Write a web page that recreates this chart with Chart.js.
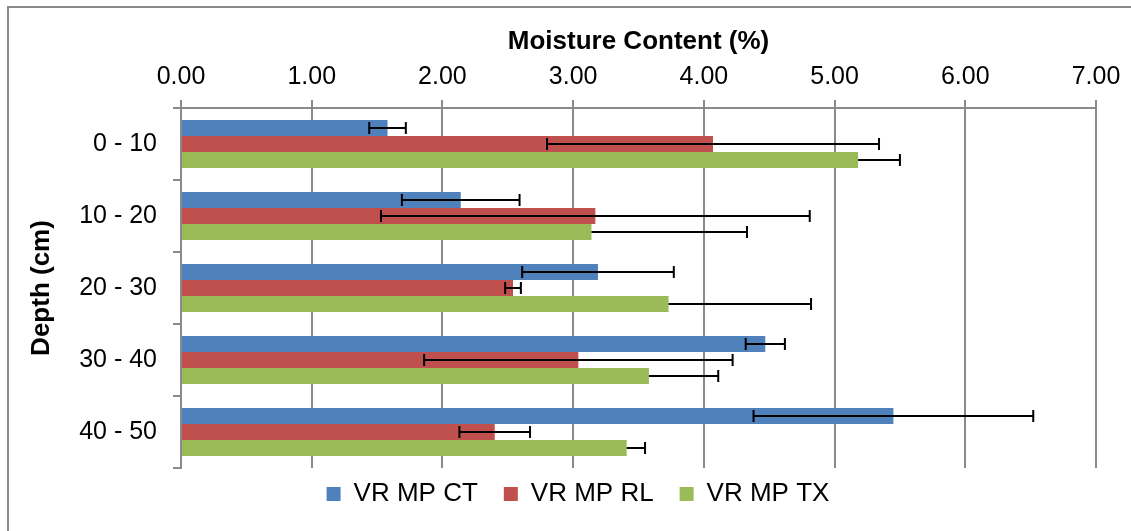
<!DOCTYPE html>
<html>
<head>
<meta charset="utf-8">
<script src="https://cdn.jsdelivr.net/npm/chart.js@4"></script>
<style>
  html, body { margin: 0; padding: 0; background: #fff; overflow: hidden; }
  #wrap { position: relative; width: 1131px; height: 531px; }
  #frame { position: absolute; left: 7px; top: 6px; width: 1300px; height: 700px;
           border: 2px solid #8a8a8a; pointer-events: none; }
</style>
</head>
<body>
<div id="wrap">
  <canvas id="grafico" width="1131" height="531"></canvas>
  <div id="frame"></div>
</div>
<script>
// Dados
const profundidades = ["0 - 10", "10 - 20", "20 - 30", "30 - 40", "40 - 50"];
const series = ["VR MP CT", "VR MP RL", "VR MP TX"];
const valoresCT = [1.58, 2.14, 3.19, 4.47, 5.45];
const valoresRL = [4.07, 3.17, 2.54, 3.04, 2.40];
const valoresTX = [5.18, 3.14, 3.73, 3.58, 3.41];
const erroCT = [0.14, 0.45, 0.58, 0.15, 1.07];
const erroRL = [1.27, 1.64, 0.06, 1.18, 0.27];
const erroTX = [0.32, 1.19, 1.09, 0.53, 0.14];
const ticksX = [0, 1, 2, 3, 4, 5, 6, 7];

const cores = ["#4F81BD", "#C0504D", "#9BBB59"];
const valores = [valoresCT, valoresRL, valoresTX];
const erros = [erroCT, erroRL, erroTX];
// TX só mostra a parte positiva da barra de erro
const direcao = ["both", "both", "plus"];

const fonte = "'Liberation Sans', Arial, sans-serif";
const cinza = "#8a8a8a";

// Plugin para desenhar as barras de erro
const barrasErro = {
  id: "barrasErro",
  afterDatasetsDraw(chart) {
    const ctx = chart.ctx;
    const x = chart.scales.x;
    ctx.save();
    ctx.strokeStyle = "#000";
    ctx.lineWidth = 2;
    chart.data.datasets.forEach((ds, i) => {
      const meta = chart.getDatasetMeta(i);
      meta.data.forEach((el, j) => {
        const v = ds.data[j];
        const e = erros[i][j];
        const x0 = x.getPixelForValue(direcao[i] === "plus" ? v : v - e);
        const x1 = x.getPixelForValue(v + e);
        const y = el.y;
        ctx.beginPath();
        ctx.moveTo(x0, y);
        ctx.lineTo(x1, y);
        if (direcao[i] !== "plus") {
          ctx.moveTo(x0, y - 6);
          ctx.lineTo(x0, y + 6);
        }
        ctx.moveTo(x1, y - 6);
        ctx.lineTo(x1, y + 6);
        ctx.stroke();
      });
    });
    ctx.restore();
  }
};

// Ajusta a posição da legenda (sobe e desloca um pouco para a direita)
const ajusteLegenda = {
  id: "ajusteLegenda",
  afterLayout(chart) {
    if (chart.legend) {
      chart.legend.top -= 13;
      chart.legend.bottom -= 13;
      chart.legend.left += 25;
      chart.legend.right += 25;
    }
  }
};

const ctx = document.getElementById("grafico").getContext("2d");
new Chart(ctx, {
  type: "bar",
  data: {
    labels: profundidades,
    datasets: series.map((nome, i) => ({
      label: nome,
      data: valores[i],
      backgroundColor: cores[i],
      borderWidth: 0,
      categoryPercentage: 0.67,
      barPercentage: 1.0,
    })),
  },
  options: {
    indexAxis: "y",
    responsive: false,
    animation: false,
    layout: { padding: { left: 10, top: 10, right: 35, bottom: 1 } },
    scales: {
      x: {
        position: "top",
        min: 0,
        max: 7,
        afterBuildTicks: (scale) => {
          scale.ticks = ticksX.map((v) => ({ value: v }));
        },
        afterFit: (scale) => { scale.height = 98; },
        ticks: {
          color: "#000",
          font: { family: fonte, size: 25 },
          padding: 8,
          callback: (v) => Number(v).toFixed(2),
        },
        grid: { color: cinza, lineWidth: 2, tickLength: 8 },
        border: { color: cinza, width: 2 },
        title: {
          display: true,
          text: "Moisture Content (%)",
          color: "#000",
          font: { family: fonte, size: 26, weight: "bold" },
          padding: { top: 16, bottom: 0 },
        },
      },
      y: {
        afterFit: (scale) => { scale.width = 171; },
        ticks: {
          color: "#000",
          font: { family: fonte, size: 25 },
          padding: 16,
        },
        grid: {
          offset: true,
          drawOnChartArea: false,
          color: cinza,
          lineWidth: 2,
          tickLength: 8,
        },
        border: { color: cinza, width: 2 },
        title: {
          display: true,
          text: "Depth (cm)",
          color: "#000",
          font: { family: fonte, size: 26, weight: "bold" },
          padding: { top: 16, bottom: 0 },
        },
      },
    },
    plugins: {
      legend: {
        position: "bottom",
        labels: {
          color: "#000",
          font: { family: fonte, size: 26 },
          boxWidth: 14,
          boxHeight: 14,
          padding: 26,
        },
      },
      tooltip: { enabled: false },
    },
  },
  plugins: [barrasErro, ajusteLegenda],
});
</script>
</body>
</html>
